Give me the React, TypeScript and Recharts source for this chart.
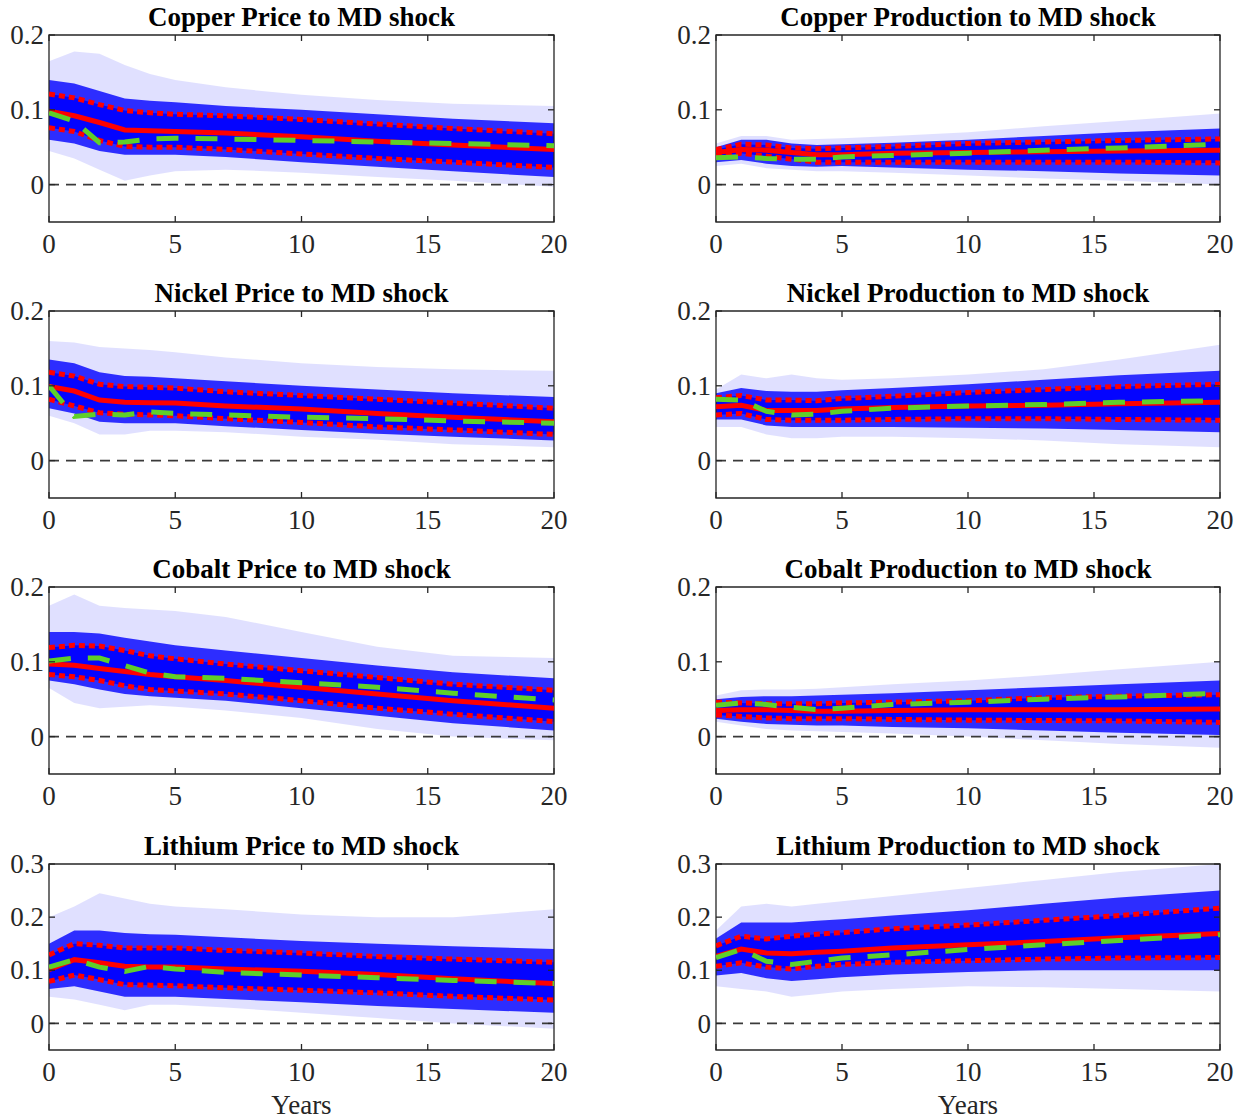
import React from 'react';
import { ComposedChart, Line, Area, XAxis, YAxis, ReferenceLine, ReferenceArea } from 'recharts';

const years = [0, 1, 2, 3, 4, 5, 7, 10, 13, 16, 20];
const xTicks = [0, 5, 10, 15, 20];
const yTicksLow = [0, 0.1, 0.2];
const yTicksHigh = [0, 0.1, 0.2, 0.3];

// Copper Price
const cuPriceMed = [0.098, 0.092, 0.083, 0.073, 0.072, 0.071, 0.069, 0.064, 0.058, 0.053, 0.047];
const cuPriceUp = [0.121, 0.116, 0.107, 0.099, 0.096, 0.094, 0.092, 0.087, 0.081, 0.075, 0.068];
const cuPriceLo = [0.076, 0.071, 0.059, 0.051, 0.05, 0.05, 0.047, 0.041, 0.035, 0.03, 0.023];
const cuPricePt = [0.096, 0.085, 0.056, 0.057, 0.061, 0.062, 0.061, 0.059, 0.057, 0.055, 0.052];
const cuPriceOutHi = [0.165, 0.178, 0.175, 0.16, 0.148, 0.14, 0.13, 0.12, 0.113, 0.108, 0.105];
const cuPriceOutLo = [0.045, 0.035, 0.02, 0.005, 0.012, 0.018, 0.02, 0.016, 0.01, 0.005, -0.003];
const cuPriceDenHi = [0.14, 0.135, 0.125, 0.115, 0.112, 0.11, 0.105, 0.1, 0.094, 0.088, 0.082];
const cuPriceDenLo = [0.06, 0.055, 0.045, 0.04, 0.04, 0.04, 0.037, 0.03, 0.024, 0.018, 0.01];

// Copper Production
const cuProdMed = [0.043, 0.047, 0.046, 0.043, 0.04, 0.04, 0.042, 0.043, 0.044, 0.045, 0.046];
const cuProdUp = [0.047, 0.054, 0.053, 0.049, 0.048, 0.049, 0.051, 0.055, 0.057, 0.059, 0.061];
const cuProdLo = [0.038, 0.042, 0.038, 0.034, 0.03, 0.03, 0.03, 0.03, 0.03, 0.03, 0.029];
const cuProdPt = [0.036, 0.037, 0.035, 0.034, 0.034, 0.037, 0.039, 0.042, 0.046, 0.049, 0.054];
const cuProdOutHi = [0.055, 0.065, 0.065, 0.06, 0.061, 0.062, 0.065, 0.07, 0.078, 0.085, 0.095];
const cuProdOutLo = [0.025, 0.028, 0.022, 0.02, 0.018, 0.018, 0.016, 0.012, 0.008, 0.005, 0.0];
const cuProdDenHi = [0.05, 0.06, 0.06, 0.055, 0.053, 0.054, 0.056, 0.06, 0.065, 0.07, 0.075];
const cuProdDenLo = [0.03, 0.033, 0.028, 0.025, 0.024, 0.025, 0.023, 0.02, 0.018, 0.015, 0.012];

// Nickel Price
const niPriceMed = [0.099, 0.093, 0.081, 0.078, 0.0775, 0.077, 0.073, 0.069, 0.063, 0.058, 0.052];
const niPriceUp = [0.118, 0.113, 0.102, 0.099, 0.098, 0.097, 0.092, 0.087, 0.082, 0.077, 0.07];
const niPriceLo = [0.082, 0.073, 0.064, 0.062, 0.061, 0.06, 0.056, 0.051, 0.045, 0.041, 0.035];
const niPricePt = [0.1, 0.059, 0.062, 0.061, 0.065, 0.063, 0.061, 0.058, 0.056, 0.053, 0.05];
const niPriceOutHi = [0.16, 0.158, 0.152, 0.15, 0.148, 0.145, 0.138, 0.13, 0.125, 0.122, 0.12];
const niPriceOutLo = [0.06, 0.05, 0.035, 0.035, 0.04, 0.04, 0.038, 0.032, 0.028, 0.022, 0.018];
const niPriceDenHi = [0.135, 0.13, 0.118, 0.113, 0.112, 0.11, 0.106, 0.1, 0.095, 0.09, 0.085];
const niPriceDenLo = [0.07, 0.063, 0.052, 0.05, 0.05, 0.05, 0.046, 0.041, 0.036, 0.032, 0.027];

// Nickel Production
const niProdMed = [0.072, 0.074, 0.067, 0.067, 0.067, 0.069, 0.071, 0.073, 0.074, 0.076, 0.078];
const niProdUp = [0.084, 0.087, 0.081, 0.081, 0.08, 0.083, 0.086, 0.091, 0.095, 0.099, 0.102];
const niProdLo = [0.061, 0.063, 0.055, 0.054, 0.054, 0.054, 0.055, 0.056, 0.056, 0.055, 0.054];
const niProdPt = [0.082, 0.081, 0.066, 0.061, 0.062, 0.066, 0.07, 0.073, 0.075, 0.078, 0.08];
const niProdOutHi = [0.095, 0.115, 0.11, 0.115, 0.11, 0.108, 0.11, 0.115, 0.122, 0.135, 0.155];
const niProdOutLo = [0.045, 0.045, 0.035, 0.03, 0.03, 0.032, 0.032, 0.03, 0.027, 0.022, 0.018];
const niProdDenHi = [0.09, 0.097, 0.093, 0.092, 0.092, 0.094, 0.097, 0.102, 0.108, 0.114, 0.12];
const niProdDenLo = [0.055, 0.055, 0.047, 0.045, 0.045, 0.045, 0.045, 0.044, 0.043, 0.041, 0.038];

// Cobalt Price
const coPriceMed = [0.097, 0.0955, 0.091, 0.087, 0.083, 0.08, 0.075, 0.066, 0.057, 0.048, 0.038];
const coPriceUp = [0.119, 0.122, 0.121, 0.115, 0.108, 0.104, 0.097, 0.088, 0.079, 0.07, 0.062];
const coPriceLo = [0.083, 0.08, 0.075, 0.068, 0.063, 0.061, 0.057, 0.048, 0.038, 0.03, 0.02];
const coPricePt = [0.101, 0.105, 0.105, 0.095, 0.085, 0.08, 0.078, 0.072, 0.066, 0.058, 0.049];
const coPriceOutHi = [0.175, 0.19, 0.175, 0.172, 0.17, 0.168, 0.16, 0.14, 0.12, 0.108, 0.105];
const coPriceOutLo = [0.065, 0.045, 0.038, 0.04, 0.042, 0.04, 0.035, 0.025, 0.01, 0.0, -0.005];
const coPriceDenHi = [0.14, 0.14, 0.138, 0.132, 0.127, 0.122, 0.115, 0.105, 0.095, 0.086, 0.078];
const coPriceDenLo = [0.075, 0.07, 0.063, 0.057, 0.054, 0.052, 0.048, 0.038, 0.028, 0.018, 0.008];

// Cobalt Production
const coProdMed = [0.035, 0.036, 0.036, 0.035, 0.034, 0.034, 0.035, 0.036, 0.036, 0.036, 0.037];
const coProdUp = [0.046, 0.045, 0.044, 0.044, 0.044, 0.045, 0.046, 0.048, 0.052, 0.054, 0.056];
const coProdLo = [0.029, 0.027, 0.025, 0.024, 0.024, 0.024, 0.023, 0.022, 0.0215, 0.021, 0.019];
const coProdPt = [0.042, 0.045, 0.043, 0.039, 0.036, 0.038, 0.043, 0.046, 0.05, 0.053, 0.058];
const coProdOutHi = [0.055, 0.062, 0.063, 0.063, 0.064, 0.066, 0.07, 0.075, 0.082, 0.09, 0.1];
const coProdOutLo = [0.02, 0.015, 0.01, 0.008, 0.007, 0.006, 0.004, 0.0, -0.005, -0.01, -0.015];
const coProdDenHi = [0.05, 0.053, 0.054, 0.054, 0.055, 0.056, 0.058, 0.062, 0.066, 0.07, 0.075];
const coProdDenLo = [0.024, 0.02, 0.017, 0.016, 0.015, 0.015, 0.013, 0.011, 0.008, 0.005, 0.002];

// Lithium Price
const liPriceMed = [0.101, 0.12, 0.114, 0.1075, 0.106, 0.106, 0.1025, 0.098, 0.092, 0.084, 0.075];
const liPriceUp = [0.129, 0.15, 0.147, 0.142, 0.142, 0.142, 0.1375, 0.1325, 0.126, 0.121, 0.115];
const liPriceLo = [0.079, 0.091, 0.0825, 0.073, 0.072, 0.071, 0.067, 0.0625, 0.0575, 0.051, 0.044];
const liPricePt = [0.106, 0.12, 0.106, 0.098, 0.1075, 0.1025, 0.096, 0.091, 0.086, 0.081, 0.075];
const liPriceOutHi = [0.2, 0.22, 0.245, 0.235, 0.225, 0.22, 0.215, 0.205, 0.2, 0.2, 0.215];
const liPriceOutLo = [0.05, 0.045, 0.035, 0.025, 0.035, 0.035, 0.03, 0.02, 0.01, 0.0, -0.01];
const liPriceDenHi = [0.15, 0.175, 0.175, 0.17, 0.168, 0.167, 0.162, 0.155, 0.15, 0.145, 0.14];
const liPriceDenLo = [0.065, 0.07, 0.06, 0.05, 0.05, 0.05, 0.046, 0.04, 0.033, 0.027, 0.02];

// Lithium Production
const liProdMed = [0.126, 0.14, 0.1325, 0.131, 0.134, 0.136, 0.142, 0.148, 0.154, 0.161, 0.169];
const liProdUp = [0.146, 0.164, 0.159, 0.164, 0.168, 0.171, 0.178, 0.185, 0.194, 0.203, 0.217];
const liProdLo = [0.1075, 0.114, 0.106, 0.1025, 0.1075, 0.111, 0.115, 0.118, 0.121, 0.123, 0.124];
const liProdPt = [0.124, 0.139, 0.117, 0.111, 0.117, 0.123, 0.129, 0.139, 0.148, 0.156, 0.167];
const liProdOutHi = [0.175, 0.22, 0.225, 0.22, 0.225, 0.23, 0.24, 0.255, 0.27, 0.285, 0.3];
const liProdOutLo = [0.07, 0.065, 0.06, 0.05, 0.055, 0.06, 0.065, 0.07, 0.068, 0.065, 0.06];
const liProdDenHi = [0.16, 0.19, 0.19, 0.19, 0.193, 0.196, 0.203, 0.213, 0.225, 0.237, 0.25];
const liProdDenLo = [0.09, 0.095, 0.085, 0.08, 0.083, 0.087, 0.092, 0.097, 0.1, 0.1, 0.1];

const FONT = '"Liberation Serif", "Times New Roman", serif';
const AXIS_COLOR = '#262626';

type Series = {
  title: string;
  med: number[]; up: number[]; lo: number[]; pt: number[];
  outHi: number[]; outLo: number[]; denHi: number[]; denLo: number[];
};

const panels: Series[] = [
  { title: 'Copper Price to MD shock', med: cuPriceMed, up: cuPriceUp, lo: cuPriceLo, pt: cuPricePt, outHi: cuPriceOutHi, outLo: cuPriceOutLo, denHi: cuPriceDenHi, denLo: cuPriceDenLo },
  { title: 'Copper Production to MD shock', med: cuProdMed, up: cuProdUp, lo: cuProdLo, pt: cuProdPt, outHi: cuProdOutHi, outLo: cuProdOutLo, denHi: cuProdDenHi, denLo: cuProdDenLo },
  { title: 'Nickel Price to MD shock', med: niPriceMed, up: niPriceUp, lo: niPriceLo, pt: niPricePt, outHi: niPriceOutHi, outLo: niPriceOutLo, denHi: niPriceDenHi, denLo: niPriceDenLo },
  { title: 'Nickel Production to MD shock', med: niProdMed, up: niProdUp, lo: niProdLo, pt: niProdPt, outHi: niProdOutHi, outLo: niProdOutLo, denHi: niProdDenHi, denLo: niProdDenLo },
  { title: 'Cobalt Price to MD shock', med: coPriceMed, up: coPriceUp, lo: coPriceLo, pt: coPricePt, outHi: coPriceOutHi, outLo: coPriceOutLo, denHi: coPriceDenHi, denLo: coPriceDenLo },
  { title: 'Cobalt Production to MD shock', med: coProdMed, up: coProdUp, lo: coProdLo, pt: coProdPt, outHi: coProdOutHi, outLo: coProdOutLo, denHi: coProdDenHi, denLo: coProdDenLo },
  { title: 'Lithium Price to MD shock', med: liPriceMed, up: liPriceUp, lo: liPriceLo, pt: liPricePt, outHi: liPriceOutHi, outLo: liPriceOutLo, denHi: liPriceDenHi, denLo: liPriceDenLo },
  { title: 'Lithium Production to MD shock', med: liProdMed, up: liProdUp, lo: liProdLo, pt: liProdPt, outHi: liProdOutHi, outLo: liProdOutLo, denHi: liProdDenHi, denLo: liProdDenLo },
];

// layout
const colLeft = [49, 716];
const plotW = [505, 504];
const rowTop = [35, 311, 587, 864];
const plotH = [187, 187, 187, 186];
const Y_AXIS_W = 46;
const TOP_PAD = 24;
const X_AXIS_H = 45;
const RIGHT_PAD = 30;
const TICK_LEN = 6;

function Panel({ s, row, col }: { s: Series; row: number; col: number }) {
  const data = years.map((x, i) => ({
    x,
    med: s.med[i], up: s.up[i], lo: s.lo[i], pt: s.pt[i],
    outHi: s.outHi[i], outLo: s.outLo[i], denHi: s.denHi[i], denLo: s.denLo[i],
  }));
  const yMax = row === 3 ? 0.3 : 0.2;
  const yTicks = row === 3 ? yTicksHigh : yTicksLow;
  const w = Y_AXIS_W + plotW[col] + RIGHT_PAD;
  const h = TOP_PAD + plotH[row] + X_AXIS_H;
  const left = colLeft[col] - Y_AXIS_W;
  const top = rowTop[row] - TOP_PAD;
  const pLeft = Y_AXIS_W;
  const pRight = Y_AXIS_W + plotW[col];
  const pTop = TOP_PAD;
  const pBottom = TOP_PAD + plotH[row];

  const XTick = (props: any) => {
    const { x, payload } = props;
    return (
      <g>
        <line x1={x} x2={x} y1={pBottom} y2={pBottom - TICK_LEN} stroke={AXIS_COLOR} strokeWidth={1.3} />
        <line x1={x} x2={x} y1={pTop} y2={pTop + TICK_LEN} stroke={AXIS_COLOR} strokeWidth={1.3} />
        <text x={x} y={pBottom + 13} dy="0.68em" textAnchor="middle" fontSize={27} fontFamily={FONT} fill={AXIS_COLOR}>
          {String(payload.value)}
        </text>
      </g>
    );
  };

  const YTick = (props: any) => {
    const { y, payload } = props;
    return (
      <g>
        <line x1={pLeft} x2={pLeft + TICK_LEN} y1={y} y2={y} stroke={AXIS_COLOR} strokeWidth={1.3} />
        <line x1={pRight} x2={pRight - TICK_LEN} y1={y} y2={y} stroke={AXIS_COLOR} strokeWidth={1.3} />
        <text x={pLeft - 5} y={y} dy="0.34em" textAnchor="end" fontSize={27} fontFamily={FONT} fill={AXIS_COLOR}>
          {String(payload.value)}
        </text>
      </g>
    );
  };

  return (
    <div style={{ position: 'absolute', left, top, width: w, height: h }}>
      <ComposedChart width={w} height={h} data={data} margin={{ top: TOP_PAD, right: RIGHT_PAD, bottom: 0, left: 0 }}>
        <XAxis dataKey="x" type="number" domain={[0, 20]} ticks={xTicks} allowDataOverflow
          height={X_AXIS_H} tick={XTick} axisLine={false} tickLine={false} interval={0} />
        <YAxis type="number" domain={[-0.05, yMax]} ticks={yTicks} allowDataOverflow
          width={Y_AXIS_W} tick={YTick} axisLine={false} tickLine={false} interval={0} />
        <Area type="linear" dataKey={(d: any) => [d.outLo, d.outHi]} stroke="none" fill="#0000ff" fillOpacity={0.12}
          isAnimationActive={false} dot={false} activeDot={false} />
        <Area type="linear" dataKey={(d: any) => [d.denLo, d.denHi]} stroke="none" fill="#0000ff" fillOpacity={0.8}
          isAnimationActive={false} dot={false} activeDot={false} />
        <Area type="linear" dataKey={(d: any) => [d.lo, d.up]} stroke="none" fill="#0000ff" fillOpacity={0.9}
          isAnimationActive={false} dot={false} activeDot={false} />
        <ReferenceLine y={0} stroke="#3a3a3a" strokeWidth={1.8} strokeDasharray="10 7" />
        <Line type="linear" dataKey="med" stroke="#ff0000" strokeWidth={5} dot={false} activeDot={false} isAnimationActive={false} />
        <Line type="linear" dataKey="up" stroke="#ff0000" strokeWidth={5} strokeDasharray="6 4" dot={false} activeDot={false} isAnimationActive={false} />
        <Line type="linear" dataKey="lo" stroke="#ff0000" strokeWidth={5} strokeDasharray="6 4" dot={false} activeDot={false} isAnimationActive={false} />
        <Line type="linear" dataKey="pt" stroke="#5fcf2a" strokeWidth={5} strokeDasharray="22 17" dot={false} activeDot={false} isAnimationActive={false} />
        <ReferenceArea x1={0} x2={20} y1={-0.05} y2={yMax} fill="none" stroke={AXIS_COLOR} strokeWidth={1.3} ifOverflow="visible" />
      </ComposedChart>
    </div>
  );
}

const titleStyle = (cx: number, cy: number): React.CSSProperties => ({
  position: 'absolute', left: cx, top: cy, transform: 'translate(-50%, -50%)',
  fontFamily: FONT, fontWeight: 'bold', fontSize: 27, lineHeight: 1, whiteSpace: 'nowrap', color: '#000',
});

export default function App() {
  return (
    <div style={{ position: 'absolute', left: 0, top: 0, width: 1246, height: 1118, background: '#fff' }}>
      {panels.map((s, i) => {
        const row = Math.floor(i / 2);
        const col = i % 2;
        return (
          <React.Fragment key={s.title}>
            <Panel s={s} row={row} col={col} />
            <div style={titleStyle(colLeft[col] + plotW[col] / 2, rowTop[row] - 18)}>{s.title}</div>
          </React.Fragment>
        );
      })}
      {[0, 1].map((col) => (
        <div key={col} style={{ ...titleStyle(colLeft[col] + plotW[col] / 2, rowTop[3] + plotH[3] + 55), fontWeight: 'normal', color: AXIS_COLOR }}>
          Years
        </div>
      ))}
    </div>
  );
}
